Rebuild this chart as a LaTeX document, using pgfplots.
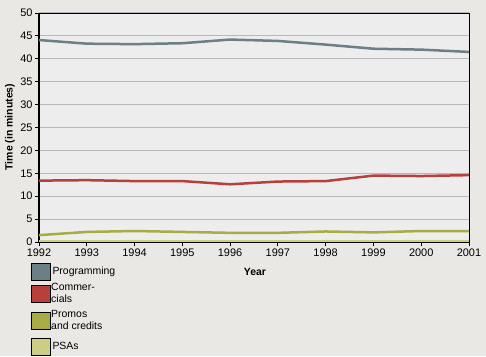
\documentclass[border=0pt]{standalone}
\usepackage{pgfplots}
\pgfplotsset{compat=1.18}
\usepackage{fontspec}
\setmainfont{Liberation Sans}
\definecolor{outerbg}{HTML}{EAE8E4}
\definecolor{plotbg}{HTML}{EDEDED}
\definecolor{cprog}{HTML}{6C7E86}
\definecolor{ccomm}{HTML}{B8403A}
\definecolor{cprom}{HTML}{A8AC44}
\definecolor{cpsa}{HTML}{CDCE84}
\definecolor{gridc}{HTML}{B8B8B8}
\begin{document}
\begin{tikzpicture}[x=1bp,y=1bp]
\fill[outerbg] (0,0) rectangle (486,356);
\begin{axis}[
  at={(39bp,114bp)}, anchor=south west,
  scale only axis, width=430bp, height=229bp,
  xmin=1992, xmax=2001, ymin=0, ymax=50,
  xtick={1992,...,2001}, ytick={0,5,...,50},
  x tick label style={/pgf/number format/1000 sep={}},
  /pgf/number format/assume math mode=true,
  tick label style={font=\fontsize{11}{13}\selectfont},
  ymajorgrids, grid style={gridc, line width=1bp},
  axis background/.style={fill=plotbg},
  axis x line*=bottom, axis y line*=left,
  tick align=outside, major tick length=4bp,
  tick style={black, line width=0.8bp},
  axis line style={black, line width=2bp},
  xticklabel style={yshift=1bp},
  yticklabel style={xshift=1bp},
  clip=false,
]
\addplot[cpsa, line width=2.5bp] coordinates {(1992,0.2)(1993,0.2)(1994,0.2)(1995,0.2)(1996,0.2)(1997,0.2)(1998,0.2)(1999,0.2)(2000,0.2)(2001,0.2)};
\addplot[cprom, line width=2.5bp] coordinates {(1992,1.5)(1993,2.2)(1994,2.4)(1995,2.2)(1996,2.0)(1997,2.0)(1998,2.3)(1999,2.1)(2000,2.4)(2001,2.4)};
\addplot[ccomm, line width=2.5bp] coordinates {(1992,13.4)(1993,13.5)(1994,13.3)(1995,13.3)(1996,12.6)(1997,13.2)(1998,13.3)(1999,14.5)(2000,14.4)(2001,14.6)};
\addplot[cprog, line width=2.5bp] coordinates {(1992,44.1)(1993,43.3)(1994,43.2)(1995,43.4)(1996,44.2)(1997,43.9)(1998,43.1)(1999,42.2)(2000,42.0)(2001,41.5)};
\draw[black, line width=0.8bp] (rel axis cs:0,1) -- (rel axis cs:1,1) -- (rel axis cs:1,0);
\end{axis}
% axis titles
\node[rotate=90, font=\bfseries\fontsize{10.5}{12}\selectfont] at (10,229) {Time (in minutes)};
\node[font=\bfseries\fontsize{10.5}{12}\selectfont] at (255,84) {Year};
% legend
\begin{scope}[font=\fontsize{10.5}{12.5}\selectfont]
\filldraw[fill=cprog, draw=black, line width=0.8bp] (31,76) rectangle (50,93);
\node[anchor=west] at (49,84) {Programming};
\filldraw[fill=ccomm, draw=black, line width=0.8bp] (31,54) rectangle (50,71);
\node[anchor=north west, align=left, inner sep=0pt] at (51,73) {Commer-\\cials};
\filldraw[fill=cprom, draw=black, line width=0.8bp] (31,27) rectangle (50,44);
\node[anchor=north west, align=left, inner sep=0pt] at (51,46) {Promos\\and credits};
\filldraw[fill=cpsa, draw=black, line width=0.8bp] (31,1) rectangle (50,18);
\node[anchor=west] at (49,10) {PSAs};
\end{scope}
\end{tikzpicture}
\end{document}
